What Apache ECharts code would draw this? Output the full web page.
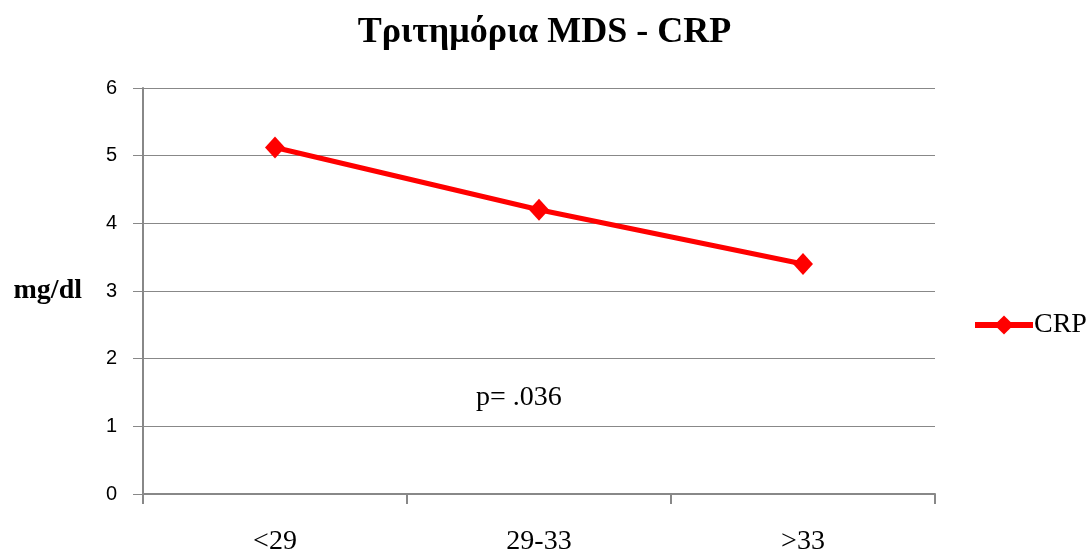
<!DOCTYPE html>
<html><head><meta charset="utf-8">
<script src="https://cdn.jsdelivr.net/npm/echarts@6/dist/echarts.min.js"></script>
<style>html,body{margin:0;padding:0;background:#fff}#c{width:1089px;height:556px}</style>
</head><body><div id="c"></div>
<script>
const categories = ['<29', '29-33', '>33'];
const crpValues = [5.12, 4.2, 3.4];
const yTicks = [0, 1, 2, 3, 4, 5, 6];
const titleText = 'Τριτημόρια MDS - CRP';
const annotation = 'p= .036';

const chart = echarts.init(document.getElementById('c'));
chart.setOption({
  animation: false,
  backgroundColor: '#fff',
  title: {
    text: titleText, left: 'center', top: 10,
    textStyle: {fontFamily: 'Liberation Serif', fontWeight: 'bold', fontSize: 36, color: '#000'}
  },
  legend: {
    data: ['CRP'], left: 967, top: 306, orient: 'vertical',
    itemWidth: 58, itemHeight: 24, itemGap: 4,
    lineStyle: {width: 6},
    textStyle: {fontFamily: 'Liberation Serif', fontSize: 28, color: '#000', padding: [0,0,0,-4]}
  },
  grid: {left: 143, right: 154, top: 88, bottom: 61, containLabel: false},
  xAxis: {
    type: 'category', data: categories, boundaryGap: true,
    axisLine: {lineStyle: {color: '#888', width: 2}},
    axisTick: {show: true, length: 10, lineStyle: {color: '#888', width: 2}},
    axisLabel: {margin: 34, fontFamily: 'Liberation Serif', fontSize: 28, color: '#000'}
  },
  yAxis: {
    type: 'value', min: yTicks[0], max: yTicks[yTicks.length - 1], interval: 1,
    name: 'mg/dl', nameLocation: 'middle', nameRotate: 0, nameGap: 61,
    nameTextStyle: {fontFamily: 'Liberation Serif', fontWeight: 'bold', fontSize: 28, color: '#000', align: 'right'},
    axisLine: {show: true, lineStyle: {color: '#888', width: 2}},
    axisTick: {show: true, length: 10, lineStyle: {color: '#888', width: 1}},
    axisLabel: {margin: 26, fontFamily: 'Liberation Sans', fontSize: 20, color: '#000'},
    splitLine: {lineStyle: {color: '#888', width: 1}}
  },
  series: [{
    name: 'CRP', type: 'line', data: crpValues,
    symbol: 'diamond', symbolSize: [20, 22],
    lineStyle: {color: '#ff0000', width: 5},
    itemStyle: {color: '#ff0000'}
  }],
  graphic: [{
    type: 'text', left: 476, top: 384,
    style: {text: annotation, font: '28px "Liberation Serif"', fill: '#000'}
  }]
});
</script></body></html>
